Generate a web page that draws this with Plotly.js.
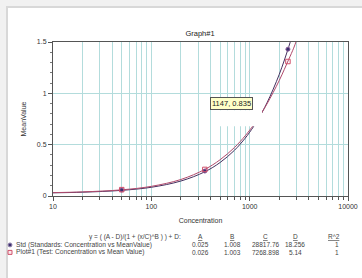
<!DOCTYPE html>
<html>
<head>
<meta charset="utf-8">
<script src="https://cdn.plot.ly/plotly-3.0.1.min.js"></script>
<style>
  html, body { margin: 0; padding: 0; background: #f1f1f1; width: 362px; height: 278px; overflow: hidden; }
  #frame { position: absolute; left: 6px; top: 6px; right: -4px; bottom: -4px; background: #ffffff;
           border-left: 2px solid #d8d8d8; border-top: 2px solid #d8d8d8; }
  #chart { position: absolute; left: 0; top: 0; width: 362px; height: 278px; }
</style>
</head>
<body>
<div id="frame"></div>
<div id="chart"></div>
<script>
// ---- data ----
const curveConc   = [10, 20, 50, 100, 200, 350, 500, 700, 900, 1000, 1200, 1500, 2000, 2500, 2800, 3000];
const stdCurve    = [0.031, 0.037, 0.055, 0.085, 0.146, 0.236, 0.326, 0.445, 0.563, 0.621, 0.736, 0.907, 1.185, 1.455, 1.612, 1.716];
const testCurve   = [0.033, 0.040, 0.060, 0.094, 0.161, 0.259, 0.353, 0.472, 0.586, 0.641, 0.747, 0.897, 1.126, 1.332, 1.44, 1.517];
const stdPtsX     = [50, 350, 2450];
const stdPtsY     = [0.058, 0.243, 1.43];
const testPtsX    = [50, 350, 2450];
const testPtsY    = [0.062, 0.259, 1.31];
const xTickVals   = [10, 100, 1000, 10000];
const xTickText   = ['10', '100', '1000', '10000'];
const seriesNames = ['Std (Standards: Concentration vs MeanValue)', 'Plot#1 (Test: Concentration vs Mean Value)'];
const paramHeads  = ['A', 'B', 'C', 'D', 'R^2'];
const stdParams   = ['0.025', '1.008', '28817.76', '18.256', '1'];
const testParams  = ['0.026', '1.003', '7268.898', '5.14', '1'];
const equation    = 'y = ( (A - D)/(1 + (x/C)^B ) ) + D:';
const cursorLabel = '1147, 0.835';

// ---- layout helpers (pixel -> paper) ----
const W = 362, H = 278, L = 53, R = 348, T = 41.7, B = 196;
const px = x => (x - L) / (R - L);
const py = y => (B - y) / (B - T);

const FONT = 'Liberation Sans, Arial, sans-serif';
const STDC = '#45305f', TESTC = '#b04a6c';
const GRID = '#b3dcdc';

const traces = [
  { x: curveConc, y: stdCurve, mode: 'lines', line: { color: STDC, width: 1, shape: 'spline' }, hoverinfo: 'skip' },
  { x: curveConc, y: testCurve, mode: 'lines', line: { color: TESTC, width: 1, shape: 'spline' }, hoverinfo: 'skip' },
  { x: stdPtsX, y: stdPtsY, mode: 'markers', marker: { symbol: 'circle', size: 4, color: '#3a2f6e', line: { color: '#8a5a9a', width: 1 } } },
  { x: testPtsX, y: testPtsY, mode: 'markers', marker: { symbol: 'square-open', size: 4.5, color: '#d0506a', line: { width: 1 } } }
];

const annotations = [];
const shapes = [];

// white patch under cursor label (hides grid and curve)
shapes.push({ type: 'rect', xref: 'paper', yref: 'paper', layer: 'above',
  x0: px(213), x1: px(262), y0: py(126), y1: py(110), fillcolor: '#ffffff', line: { width: 0 } });

// cursor label
annotations.push({ xref: 'paper', yref: 'paper', x: px(231), y: py(103.5), xanchor: 'center', yanchor: 'middle',
  text: cursorLabel, showarrow: false, font: { family: FONT, size: 7.5, color: '#222' },
  bgcolor: '#ffffc8', bordercolor: '#555', borderwidth: 1, borderpad: 1 });

// equation header
annotations.push({ xref: 'paper', yref: 'paper', x: px(183), y: py(237), xanchor: 'right', yanchor: 'middle',
  text: equation, showarrow: false, font: { family: FONT, size: 6.5, color: '#444' } });

const colX = [200, 232, 265, 295, 334];
paramHeads.forEach((h, i) => {
  annotations.push({ xref: 'paper', yref: 'paper', x: px(colX[i]), y: py(237), xanchor: 'center', yanchor: 'middle',
    text: '<u>' + h + '</u>', showarrow: false, font: { family: FONT, size: 6.5, color: '#444' } });
});
const colVX = [200, 232, 265, 295, 337];
[stdParams, testParams].forEach((row, r) => {
  const y = r === 0 ? 245 : 252.5;
  annotations.push({ xref: 'paper', yref: 'paper', x: px(14), y: py(y), xanchor: 'left', yanchor: 'middle',
    text: seriesNames[r], showarrow: false, font: { family: FONT, size: 6.7, color: '#444' } });
  row.forEach((v, i) => {
    annotations.push({ xref: 'paper', yref: 'paper', x: px(colVX[i]), y: py(y), xanchor: 'center', yanchor: 'middle',
      text: v, showarrow: false, font: { family: FONT, size: 6.5, color: '#444' } });
  });
});
// legend symbols
shapes.push({ type: 'circle', xref: 'paper', yref: 'paper', x0: px(8), x1: px(12), y0: py(247), y1: py(243),
  fillcolor: '#3a2f6e', line: { color: '#9a8ab0', width: 1 } });
shapes.push({ type: 'rect', xref: 'paper', yref: 'paper', x0: px(8), x1: px(12), y0: py(254.5), y1: py(250.5),
  fillcolor: '#fbe6ea', line: { color: '#d0506a', width: 1 } });

const layout = {
  width: W, height: H,
  margin: { l: L, r: W - R, t: T, b: H - B, pad: 0 },
  paper_bgcolor: 'rgba(0,0,0,0)', plot_bgcolor: '#ffffff',
  showlegend: false,
  font: { family: FONT, size: 7, color: '#333' },
  title: { text: 'Graph#1', x: px(200), xref: 'paper', xanchor: 'center', y: 1 - 33 / H, yanchor: 'middle',
           font: { family: FONT, size: 7.5, color: '#222' } },
  xaxis: {
    type: 'log', range: [1, 4], tickvals: xTickVals, ticktext: xTickText,
    showgrid: true, gridcolor: GRID, gridwidth: 1,
    ticks: 'outside', ticklen: 4, tickcolor: '#555',
    showline: true, linecolor: '#555', mirror: true, zeroline: false,
    minor: { dtick: 'D1', showgrid: true, gridcolor: GRID, gridwidth: 1, ticks: 'outside', ticklen: 3, tickcolor: '#555' },
    tickfont: { family: FONT, size: 7, color: '#333' },
    title: { text: 'Concentration', standoff: 8, font: { family: FONT, size: 7, color: '#333' } }
  },
  yaxis: {
    range: [0, 1.5], tickvals: [0, 0.5, 1, 1.5], ticktext: ['0', '0.5', '1', '1.5'],
    showgrid: true, gridcolor: GRID, gridwidth: 1,
    ticks: 'outside', ticklen: 4, tickcolor: '#555',
    showline: true, linecolor: '#555', mirror: true, zeroline: false,
    minor: { dtick: 0.1, ticks: 'outside', ticklen: 2, tickcolor: '#777', showgrid: false },
    tickfont: { family: FONT, size: 7, color: '#333' },
    title: { text: 'MeanValue', standoff: 9, font: { family: FONT, size: 7, color: '#333' } }
  },
  shapes: shapes,
  annotations: annotations
};

Plotly.newPlot('chart', traces, layout, { staticPlot: true, displayModeBar: false });
</script>
</body>
</html>
